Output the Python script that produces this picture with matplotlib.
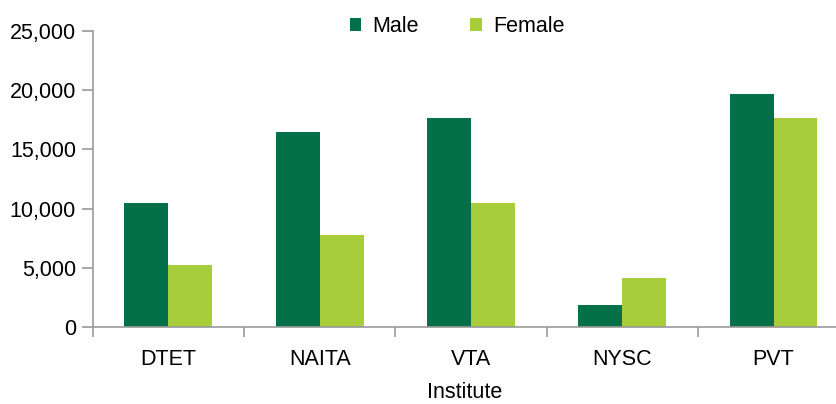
import matplotlib
matplotlib.use('Agg')
import matplotlib.pyplot as plt
import numpy as np

institutes = ['DTET', 'NAITA', 'VTA', 'NYSC', 'PVT']
male = [10450, 16500, 17650, 1900, 19650]
female = [5250, 7750, 10450, 4150, 17650]

dark_green = '#03704A'
light_green = '#A7CE3A'
grey = '#999999'
fs = 15.5

plt.rcParams['font.family'] = ['Liberation Sans', 'DejaVu Sans']

fig = plt.figure(figsize=(8.37, 4.04), dpi=100)
ax = fig.add_axes([92.7 / 837, 1 - 327 / 404, 756.5 / 837, (327 - 31) / 404])

x = np.arange(len(institutes))
w = 0.29
ax.bar(x - w / 2, male, w, color=dark_green, label='Male', zorder=2)
ax.bar(x + w / 2, female, w, color=light_green, label='Female', zorder=2)

ax.set_xlim(-0.5, len(institutes) - 0.5)
ax.set_ylim(0, 25000)
ax.set_yticks(np.arange(0, 25001, 5000))
ax.set_yticklabels(['{:,}'.format(v) for v in range(0, 25001, 5000)], fontsize=fs)

# category labels between boundary ticks
ax.set_xticks(x)
ax.set_xticklabels(institutes, fontsize=fs)
ax.tick_params(axis='x', length=0, pad=16)
ax.set_xticks(np.arange(0, len(institutes)) - 0.5, minor=True)
ax.tick_params(axis='x', which='minor', length=7, color=grey, width=1.2)
ax.tick_params(axis='y', length=8, color=grey, width=1.2, pad=4)

for s in ['top', 'right']:
    ax.spines[s].set_visible(False)
for s in ['left', 'bottom']:
    ax.spines[s].set_color(grey)
    ax.spines[s].set_linewidth(1.2)

fig.text(465 / 837, 1 - 392 / 404, 'Institute', ha='center', va='center', fontsize=fs)

fig.legend(loc='center', bbox_to_anchor=(457 / 837, 1 - 27 / 404), ncol=2,
           frameon=False, fontsize=fs, handlelength=0.55, handleheight=0.55,
           columnspacing=2.4, handletextpad=0.5)

fig.savefig('out.png', dpi=100)
